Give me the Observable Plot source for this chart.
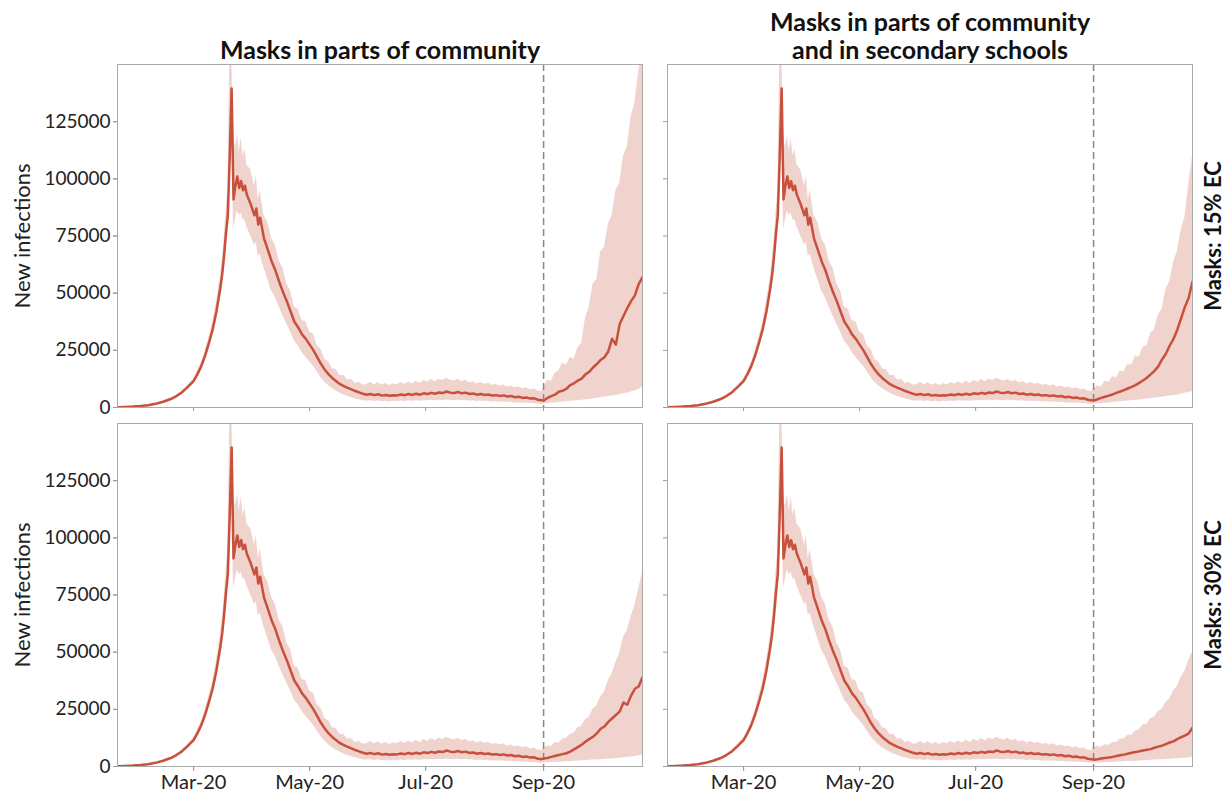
<!DOCTYPE html>
<html><head><meta charset="utf-8">
<script src="https://cdn.jsdelivr.net/npm/d3@7"></script>
<script src="https://cdn.jsdelivr.net/npm/@observablehq/plot@0.6"></script>
<style>
body{margin:0;background:#fff;}
#chart{width:1232px;height:796px;}
</style></head><body><div id="chart"></div>
<script>
const colTitles = ["Masks in parts of community", "Masks in parts of community\nand in secondary schools"];
const rowTitles = ["Masks: 15% EC", "Masks: 30% EC"];
const yLabel = "New infections";
const xTickDates = ["2020-03-01", "2020-05-01", "2020-07-01", "2020-09-01"];
const yTicks = [0, 25000, 50000, 75000, 100000, 125000];
const interventionDate = "2020-09-01";
const xDomain = ["2020-01-21", "2020-10-23"];
const yDomain = [0, 150000];

// shared trajectory before September (identical in all four panels)
const preDates = [
 "2020-01-21","2020-01-25","2020-01-29","2020-02-02","2020-02-06","2020-02-10","2020-02-14","2020-02-18","2020-02-21","2020-02-24",
 "2020-02-27","2020-03-01","2020-03-03","2020-03-05","2020-03-07","2020-03-09","2020-03-11","2020-03-13","2020-03-15","2020-03-16",
 "2020-03-17","2020-03-18","2020-03-19","2020-03-20","2020-03-21","2020-03-22","2020-03-23","2020-03-24","2020-03-25","2020-03-26",
 "2020-03-27","2020-03-28","2020-03-29","2020-03-31","2020-04-02","2020-04-03","2020-04-04","2020-04-05","2020-04-07","2020-04-09",
 "2020-04-11","2020-04-13","2020-04-15","2020-04-17","2020-04-19","2020-04-21","2020-04-23","2020-04-25","2020-04-27","2020-04-29",
 "2020-05-01","2020-05-03","2020-05-05","2020-05-07","2020-05-09","2020-05-11","2020-05-13","2020-05-15","2020-05-17","2020-05-19",
 "2020-05-21","2020-05-23","2020-05-25","2020-05-27","2020-05-29","2020-05-31",
 "2020-06-02","2020-06-04","2020-06-06","2020-06-08","2020-06-10","2020-06-12","2020-06-14","2020-06-16","2020-06-18","2020-06-20","2020-06-22","2020-06-24","2020-06-26","2020-06-28","2020-06-30",
 "2020-07-02","2020-07-04","2020-07-06","2020-07-08","2020-07-10","2020-07-12","2020-07-14","2020-07-16","2020-07-18","2020-07-20","2020-07-22","2020-07-24","2020-07-26","2020-07-28","2020-07-30",
 "2020-08-01","2020-08-03","2020-08-05","2020-08-07","2020-08-09","2020-08-11","2020-08-13","2020-08-15","2020-08-17","2020-08-19","2020-08-21","2020-08-23","2020-08-25","2020-08-27","2020-08-29","2020-08-31"
];
const preMean = [
 150,250,400,650,1000,1600,2500,3700,5000,6700,
 9000,11500,14500,18000,22500,28000,34000,42000,52000,58000,
 66000,76000,84000,110000,139500,91000,97000,101000,96000,99000,
 95000,97000,93000,89000,84000,87000,80000,83000,74000,69000,
 64000,60000,55000,50500,46500,42000,37500,35000,32000,30000,
 27500,25000,22000,19000,16500,14500,12800,11500,10200,9400,
 8600,7900,7200,6600,6000,5600,
 5900,5400,5800,5200,5500,5100,5400,5300,5700,5400,5900,5500,6000,5600,6200,
 5900,6400,6000,6600,6300,7000,6500,6300,6800,6200,6500,5900,6100,5600,5900,
 5500,5700,5200,5400,5000,5300,4800,5000,4500,4700,4200,4400,3900,4000,3400,3200
];
const preLo = [
 140,230,370,600,930,1500,2300,3400,4600,6200,
 8300,10500,13300,16500,20500,25500,31000,38000,47000,52000,
 59000,68000,75000,95000,122000,78000,82000,86000,84000,85000,
 82000,82000,79000,75000,71000,72000,66000,67000,61000,56000,
 51000,48000,44000,40000,36500,33000,29000,27000,24000,22000,
 20000,18000,15500,13000,11000,9500,8200,7200,6200,5500,
 4800,4300,3800,3400,3000,2800,
 2900,2600,2900,2500,2700,2400,2700,2600,2800,2600,2900,2700,3000,2700,3000,
 2900,3100,2900,3200,3000,3300,3100,3000,3200,2900,3100,2800,2900,2600,2800,
 2600,2700,2400,2500,2300,2500,2200,2300,2000,2100,1900,2000,1700,1800,1500,1400
];
const preHi = [
 160,270,430,700,1080,1720,2700,4000,5400,7200,
 9700,12500,15700,19500,24500,30500,37000,46000,57000,64000,
 73000,85000,95000,150000,158000,117000,114000,119000,112000,118000,
 110000,113000,106000,104000,97000,101000,91000,95000,84000,81000,
 74000,71000,64000,61000,54000,51000,44000,43000,38000,37500,
 33000,32000,27000,25500,21000,20000,17000,16500,14000,14000,
 12000,12200,10500,11000,9800,10000,
 11000,9800,10800,9700,10500,9600,10400,10000,10900,10200,11200,10300,11500,10500,11800,
 11000,12200,11300,12500,11800,12800,12000,11600,12400,11300,11900,10800,11300,10300,10900,
 10200,10600,9700,10100,9400,9900,9000,9400,8600,9000,8200,8600,7800,8100,7200,7000
];

// after the intervention (1 Sep), per panel
const postDates = [
 "2020-09-01","2020-09-03","2020-09-05","2020-09-07","2020-09-09","2020-09-11","2020-09-13","2020-09-15","2020-09-17","2020-09-19",
 "2020-09-21","2020-09-23","2020-09-25","2020-09-27","2020-09-29","2020-10-01","2020-10-03","2020-10-05","2020-10-07","2020-10-09",
 "2020-10-11","2020-10-13","2020-10-15","2020-10-17","2020-10-19","2020-10-21","2020-10-23"
];
const communityEC15Mean = [3000,4200,5000,5600,6900,7300,8200,9800,10600,11800,12600,14500,15600,17500,19000,20800,22000,24500,30000,27500,36500,40000,43500,46500,49000,54000,57000];
const communityEC15Lo = [1500,1700,1900,2000,2200,2400,2500,2700,2800,3000,3200,3300,3500,3700,4000,4300,4500,4800,5000,5300,5600,6000,6300,6800,7200,7800,9000];
const communityEC15Hi = [8500,12000,11500,15000,16000,19500,18500,22000,21000,26000,28000,39000,44000,54000,56000,68000,70000,80000,84000,95000,98000,110000,114000,127000,133000,147000,155000];

const schoolsEC15Mean = [3000,3600,4200,4700,5200,5700,6400,7000,7600,8300,9000,9800,10800,11800,13000,14500,16000,18000,21000,23500,27000,30000,34000,39000,44000,48000,55000];
const schoolsEC15Lo = [1500,1600,1800,1900,2100,2200,2400,2500,2700,2800,3000,3100,3300,3500,3700,3900,4100,4300,4500,4800,5000,5300,5500,5800,6200,6600,7000];
const schoolsEC15Hi = [8000,9500,9000,11500,11000,13500,13000,16000,15500,19000,18500,22500,22000,26500,27000,32500,34000,40500,43000,51500,55000,63500,68000,77500,83000,97500,110000];

const communityEC30Mean = [3500,3700,4200,4600,5000,5400,5800,6500,7500,8500,9500,10800,12000,13000,14500,16500,17500,19500,21000,22500,24000,28000,27000,31000,34000,35000,39000];
const communityEC30Lo = [1500,1600,1700,1800,1900,2000,2100,2200,2300,2400,2500,2600,2700,2800,2900,3000,3100,3200,3300,3500,3600,3800,4000,4200,4400,4700,5000];
const communityEC30Hi = [8000,9000,8800,10500,10200,12000,12200,14000,14500,17000,17500,20500,21500,25000,26500,30500,32500,37500,40500,45500,49500,56500,59500,65500,70500,77500,85000];

const schoolsEC30Mean = [3000,3200,3500,3700,3900,4200,4600,4900,5200,5600,6000,6300,6700,7000,7300,7600,8200,8700,9100,9800,10500,11000,12000,12800,13500,14500,17000];
const schoolsEC30Lo = [1500,1550,1600,1700,1750,1800,1900,2000,2100,2150,2200,2300,2400,2500,2600,2700,2800,2900,3000,3100,3200,3300,3400,3500,3600,3800,4000];
const schoolsEC30Hi = [8000,8800,8400,9500,9200,10500,10500,12000,12000,13700,13700,15500,16000,18300,18500,21000,21500,24000,25000,28000,29500,33000,35000,39000,41500,46500,50000];

const lineColor = "#c8503c";
const parse = d3.utcParse("%Y-%m-%d");

const panels = [
  {col: colTitles[0], row: rowTitles[0], mean: communityEC15Mean, lo: communityEC15Lo, hi: communityEC15Hi},
  {col: colTitles[1], row: rowTitles[0], mean: schoolsEC15Mean, lo: schoolsEC15Lo, hi: schoolsEC15Hi},
  {col: colTitles[0], row: rowTitles[1], mean: communityEC30Mean, lo: communityEC30Lo, hi: communityEC30Hi},
  {col: colTitles[1], row: rowTitles[1], mean: schoolsEC30Mean, lo: schoolsEC30Lo, hi: schoolsEC30Hi}
];
const rows = panels.flatMap(p => [
  ...preDates.map((d, i) => ({date: parse(d), mean: preMean[i], lo: preLo[i], hi: preHi[i], col: p.col, row: p.row})),
  ...postDates.map((d, i) => ({date: parse(d), mean: p.mean[i], lo: p.lo[i], hi: p.hi[i], col: p.col, row: p.row}))
]);

const chart = Plot.plot({
  width: 1232,
  height: 796,
  marginLeft: 117,
  marginRight: 40,
  marginTop: 63,
  marginBottom: 29,
  style: {fontFamily: "Lato, 'Open Sans', sans-serif", fontSize: "19px", color: "#222", background: "#fff"},
  fx: {domain: colTitles, paddingInner: 0.0455, paddingOuter: 0, axis: null},
  fy: {domain: rowTitles, paddingInner: 0.0444, paddingOuter: 0, axis: null},
  x: {type: "utc", domain: xDomain.map(parse)},
  y: {domain: yDomain},
  marks: [
    Plot.areaY(rows, {x: "date", y1: "lo", y2: "hi", fx: "col", fy: "row", fill: lineColor, fillOpacity: 0.25, clip: true}),
    Plot.ruleX([parse(interventionDate)], {stroke: "#888", strokeWidth: 1.5, strokeDasharray: "7,4"}),
    Plot.lineY(rows, {x: "date", y: "mean", fx: "col", fy: "row", stroke: lineColor, strokeWidth: 2.5, clip: true}),
    Plot.frame({stroke: "#aaa", strokeWidth: 1}),
    Plot.axisX({ticks: xTickDates.map(parse), tickFormat: () => "", tickSize: 4, stroke: "#999", facetAnchor: null}),
    Plot.axisX({ticks: xTickDates.map(parse), tickFormat: d3.utcFormat("%b-%y"), tickSize: 5, tickPadding: 3, stroke: "#999", fill: "#222", fontSize: 20, label: null}),
    Plot.axisY({ticks: yTicks, tickFormat: () => "", tickSize: 4, stroke: "#999", facetAnchor: null}),
    Plot.axisY({ticks: yTicks, tickFormat: d => String(d), tickSize: 4, tickPadding: 3, stroke: "#999", fill: "#222", fontSize: 19, label: null}),
    Plot.text(colTitles, {fx: d => d, fy: () => rowTitles[0], text: d => d, frameAnchor: "top", textAnchor: "middle", lineAnchor: "bottom", dy: -6, lineHeight: 1.12, fontSize: 25, fontWeight: "bold", fill: "#111"}),
    Plot.text(rowTitles, {fx: () => colTitles[1], fy: d => d, text: d => d, frameAnchor: "right", textAnchor: "middle", rotate: -90, dx: 21, fontSize: 22, fontWeight: "bold", fill: "#111"}),
    Plot.text(rowTitles, {fx: () => colTitles[0], fy: d => d, text: () => yLabel, frameAnchor: "left", textAnchor: "middle", rotate: -90, dx: -95, fontSize: 22, fill: "#222"})
  ]
});
document.getElementById("chart").appendChild(chart);
</script>
</body></html>
